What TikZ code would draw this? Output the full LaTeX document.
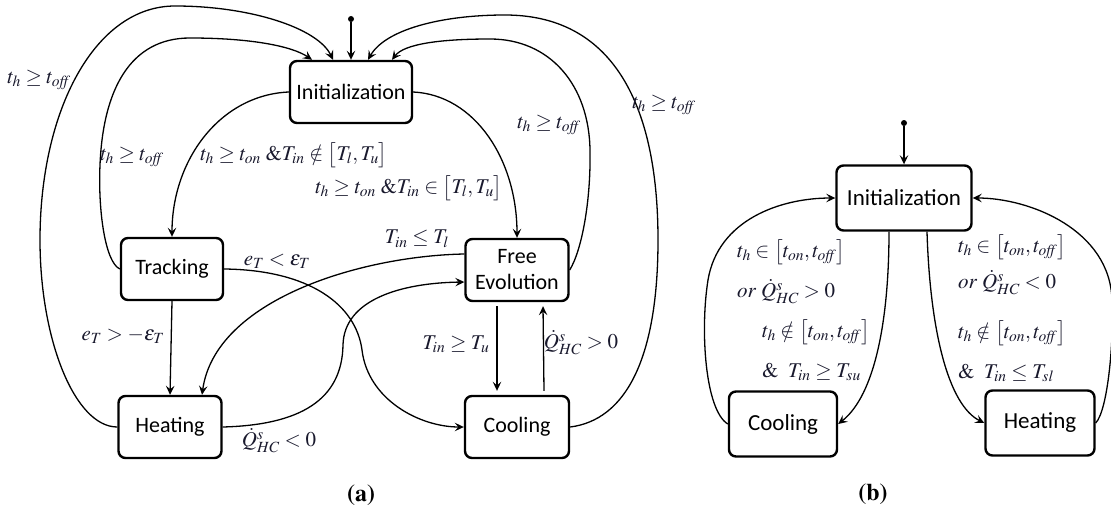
\documentclass[tikz,border=0pt]{standalone}
\usepackage{mathptmx}
\usepackage[no-math]{fontspec}
\setmainfont{Carlito}
\usetikzlibrary{arrows.meta}
\definecolor{txt}{RGB}{25,25,45}
\newcommand{\toff}{t_{\mathit{off}}}
\tikzset{
  state/.style={draw, line width=2.4pt, rounded corners=7pt, minimum height=62pt,
    align=center, inner sep=0pt, font=\fontsize{22}{26}\selectfont},
  bstate/.style={state, minimum height=65pt, font=\fontsize{23}{27}\selectfont},
  edge/.style={line width=1.3pt, -{Stealth[length=9pt,width=8.5pt,inset=3.5pt]}},
  dot/.style={circle, fill, inner sep=0pt, minimum size=6pt},
  lbl/.style={text=txt, inner sep=0pt, font=\fontsize{21}{25}\selectfont},
  subcap/.style={inner sep=0pt, font=\fontsize{24}{28}\usefont{OT1}{ptm}{b}{n}}
}
\begin{document}
\begin{tikzpicture}[x=1pt,y=-1pt]
\useasboundingbox (0,0) rectangle (1111,511);
% ---------- (a) ----------
\node[state, minimum width=122pt] (i1) at (351,92) {Initialization};
\node[state, minimum width=102pt] (tr) at (172,269) {Tracking};
\node[state, minimum width=103pt] (h1) at (170,427) {Heating};
\node[state, minimum width=103pt] (fe) at (517,270) {Free\\Evolution};
\node[state, minimum width=104pt] (co) at (517,427) {Cooling};
\node[dot] (s1) at (351,19) {};
\draw[edge] (s1) -- (i1.north);
% outer left
\draw[edge] (h1.west) .. controls (75,427) and (40,340) .. (40,240)
  .. controls (40,110) and (95,6) .. (175,6)
  .. controls (250,6) and (318,28) .. ([xshift=-18pt]i1.north);
% inner left
\draw[edge] (tr.west) .. controls (105,262) and (98,210) .. (100,165)
  .. controls (103,90) and (130,38) .. (190,38)
  .. controls (250,38) and (292,46) .. ([xshift=-39pt]i1.north);
% inner right
\draw[edge] (fe.east) .. controls (582,250) and (591,200) .. (590,150)
  .. controls (589,85) and (550,39) .. (490,39)
  .. controls (440,39) and (404,44) .. ([xshift=41pt]i1.north);
% outer right
\draw[edge] (co.east) .. controls (625,420) and (658,360) .. (658,240)
  .. controls (658,100) and (610,15) .. (505,15)
  .. controls (440,15) and (385,30) .. ([xshift=17pt]i1.north);
\draw[edge] (i1.west) .. controls (220,95) and (172,160) .. (tr.north);
\draw[edge] (i1.east) .. controls (475,95) and (517,160) .. (fe.north);
\draw[edge] (tr.east) .. controls (310,270) and (356,305) .. (362,350)
  .. controls (368,400) and (420,427) .. (co.west);
\draw[edge] (tr.south) -- (h1.north);
\draw[edge] ([yshift=16pt]fe.west) .. controls (360,256) and (215,300) .. ([xshift=32pt]h1.north);
\draw[edge] (h1.east) .. controls (300,425) and (342,400) .. (343,345)
  .. controls (344,300) and (400,283) .. ([yshift=-12pt]fe.west);
\draw[edge] ([xshift=-20pt,yshift=-4pt]fe.south) -- ([xshift=-20pt,yshift=4pt]co.north);
\draw[edge] ([xshift=27pt,yshift=4pt]co.north) -- ([xshift=26pt,yshift=-4pt]fe.south);
\node[lbl] (l1) at (39,80) {$t_h\ge \toff$};
\node[lbl] (l2) at (132,157) {$t_h\ge \toff$};
\node[lbl] (l3) at (294,155) {$t_h\ge t_{on}\ \&T_{in}\notin\bigl[T_l,T_u\bigr]$};
\node[lbl] (l4) at (409,188) {$t_h\ge t_{on}\ \&T_{in}\in\bigl[T_l,T_u\bigr]$};
\node[lbl] (l5) at (549,125) {$t_h\ge \toff$};
\node[lbl] (l6) at (664,105) {$t_h\ge \toff$};
\node[lbl] (l7) at (277,261) {$e_T<\varepsilon_T$};
\node[lbl] (l8) at (123,336) {$e_T>-\varepsilon_T$};
\node[lbl] (l9) at (417,239) {$T_{in}\le T_l$};
\node[lbl] (l10) at (279,441) {$\dot{Q}^s_{HC}<0$};
\node[lbl] (l11) at (456,344) {$T_{in}\ge T_u$};
\node[lbl] (l12) at (581,343) {$\dot{Q}^s_{HC}>0$};
\node[subcap] (ca) at (361,495) {(a)};
% ---------- (b) ----------
\node[bstate, minimum width=135pt] (i2) at (904,198) {Initialization};
\node[bstate, minimum width=108pt] (c2) at (783,424) {Cooling};
\node[bstate, minimum width=109pt] (h2) at (1040,423) {Heating};
\node[dot] (s2) at (904,123) {};
\draw[edge] (s2) -- (i2.north);
\draw[edge] (c2.west) .. controls (705,410) and (700,330) .. (708,280)
  .. controls (718,220) and (780,198) .. (i2.west);
\draw[edge] ([xshift=-15pt]i2.south) .. controls (889,320) and (875,395) .. (c2.east);
\draw[edge] ([xshift=23pt]i2.south) .. controls (930,330) and (948,405) .. (h2.west);
\draw[edge] (h2.east) .. controls (1108,410) and (1114,340) .. (1112,300)
  .. controls (1110,230) and (1030,198) .. (i2.east);
\node[lbl,anchor=west] (m1) at (737,252) {$t_h\in\bigl[t_{on},\toff\bigr]$};
\node[lbl,anchor=west] (m2) at (737,292) {$or\ \dot{Q}^s_{HC}>0$};
\node[lbl,anchor=west] (m3) at (762,332) {$t_h\notin\bigl[t_{on},\toff\bigr]$};
\node[lbl,anchor=west] (m4) at (762,372) {$\&\ \ T_{in}\ge T_{su}$};
\node[lbl,anchor=west] (m5) at (958,247) {$t_h\in\bigl[t_{on},\toff\bigr]$};
\node[lbl,anchor=west] (m6) at (958,283) {$or\ \dot{Q}^s_{HC}<0$};
\node[lbl,anchor=west] (m7) at (958,333) {$t_h\notin\bigl[t_{on},\toff\bigr]$};
\node[lbl,anchor=west] (m8) at (958,373) {$\&\ \ T_{in}\le T_{sl}$};
\node[subcap] (cb) at (873,494) {(b)};
\end{tikzpicture}
\end{document}
